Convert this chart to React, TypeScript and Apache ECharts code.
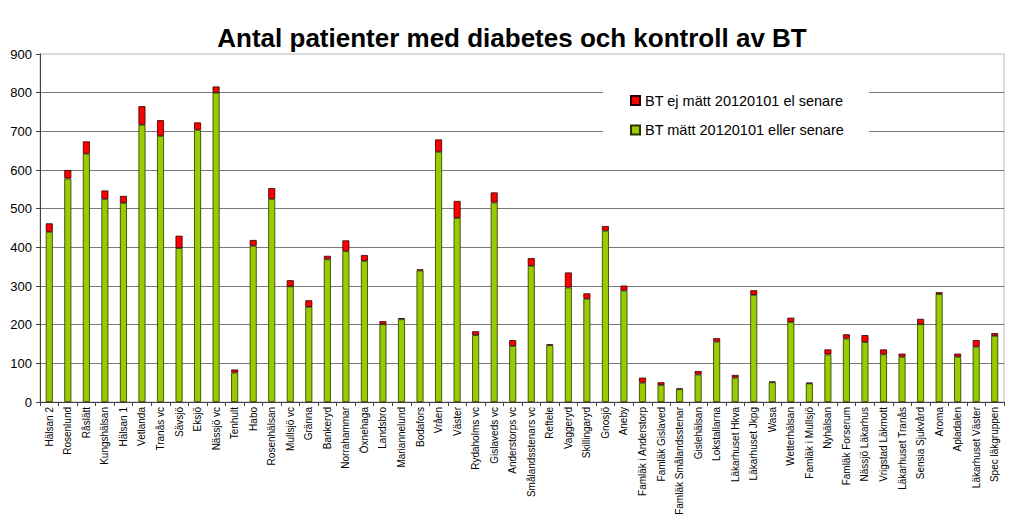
import React, { useEffect, useRef } from "react";
import * as echarts from "echarts";

const categories: string[] = [
  "Hälsan 2", "Rosenlund", "Råslätt", "Kungshälsan", "Hälsan 1", "Vetlanda", "Tranås vc", "Sävsjö",
  "Eksjö", "Nässjö vc", "Tenhult", "Habo", "Rosenhälsan", "Mullsjö vc", "Gränna", "Bankeryd",
  "Norrahammar", "Öxnehaga", "Landsbro", "Mariannelund", "Bodafors", "Vråen", "Väster", "Rydaholms vc",
  "Gislaveds vc", "Anderstorps vc", "Smålandsstenars vc", "Reftele", "Vaggeryd", "Skillingaryd", "Gnosjö", "Aneby",
  "Famläk i Anderstorp", "Famläk Gislaved", "Famläk Smålandsstenar", "Gislehälsan", "Lokstallarna", "Läkarhuset Hkva",
  "Läkarhuset Jkpg", "Wasa", "Wetterhälsan", "Famläk i Mullsjö", "Nyhälsan", "Famläk Forserum", "Nässjö Läkarhus",
  "Vrigstad Läkmott", "Läkarhuset Tranås", "Sensia Sjukvård", "Aroma", "Apladalen", "Läkarhuset Väster", "Spec läkgruppen",
];

const measured: number[] = [
  440, 578, 642, 525, 515, 717, 688, 398, 704, 800, 76, 404, 525, 299, 246, 369,
  390, 365, 201, 214, 340, 647, 476, 173, 516, 145, 352, 147, 296, 267, 443, 288,
  50, 44, 33, 71, 156, 63, 277, 51, 207, 48, 123, 164, 155, 123, 117, 201, 279, 117, 143, 171,
];

const notMeasured: number[] = [
  22, 22, 32, 22, 18, 48, 41, 32, 19, 16, 8, 15, 28, 16, 17, 9,
  28, 15, 8, 3, 3, 32, 44, 10, 26, 15, 20, 2, 39, 14, 12, 13,
  13, 7, 2, 9, 9, 7, 12, 2, 11, 2, 13, 11, 18, 13, 8, 14, 5, 8, 17, 7,
];

const seriesNames = ["BT ej mätt 20120101 el senare", "BT mätt 20120101 eller senare"];
const yTicks = { min: 0, max: 900, interval: 100 };

const FONT = "'Liberation Sans', Arial, sans-serif";

export default function App() {
  const ref = useRef<HTMLDivElement>(null);
  useEffect(() => {
    if (!ref.current) return;
    const chart = echarts.init(ref.current, null, { renderer: "svg" });
    chart.setOption({
      animation: false,
      backgroundColor: "#ffffff",
      title: {
        text: "Antal patienter med diabetes och kontroll av BT",
        left: "center",
        top: 20,
        textStyle: { fontFamily: FONT, fontSize: 26, fontWeight: "bold", color: "#000" },
      },
      legend: {
        data: [seriesNames[0], seriesNames[1]],
        orient: "vertical",
        left: 603,
        top: 72,
        padding: [21, 25, 18, 27],
        backgroundColor: "#ffffff",
        itemWidth: 9,
        itemHeight: 9,
        itemGap: 14.5,
        icon: "rect",
        textStyle: { fontFamily: FONT, fontSize: 14.5, color: "#000" },
      },
      grid: {
        left: 40,
        right: 20,
        top: 54,
        bottom: 122,
        show: true,
        borderColor: "#b8b8b8",
        borderWidth: 1,
        containLabel: false,
      },
      xAxis: {
        type: "category",
        data: categories,
        axisLine: { lineStyle: { color: "#404040", width: 1 } },
        axisTick: { show: true, length: 4, alignWithLabel: false, lineStyle: { color: "#404040" } },
        axisLabel: {
          rotate: 90,
          interval: 0,
          fontSize: 10,
          fontFamily: FONT,
          color: "#000",
          margin: 5,
        },
      },
      yAxis: {
        type: "value",
        min: yTicks.min,
        max: yTicks.max,
        interval: yTicks.interval,
        axisLine: { show: true, lineStyle: { color: "#404040", width: 1 } },
        axisTick: { show: true, length: 4, lineStyle: { color: "#404040" } },
        axisLabel: { fontSize: 13, fontFamily: FONT, color: "#000", margin: 8 },
        splitLine: { show: true, showMaxLine: false, lineStyle: { color: "#7a7a7a", width: 1 } },
      },
      series: [
        {
          name: seriesNames[1],
          type: "bar",
          stack: "total",
          data: measured,
          barWidth: 7,
          itemStyle: { color: "#99cc00", borderColor: "#2a3300", borderWidth: 0.8 },
        },
        {
          name: seriesNames[0],
          type: "bar",
          stack: "total",
          data: notMeasured,
          barWidth: 7,
          itemStyle: { color: "#ff0000", borderColor: "#2a0000", borderWidth: 0.8 },
        },
      ],
    });
    return () => chart.dispose();
  }, []);
  return (
    <div
      ref={ref}
      style={{ position: "fixed", left: 0, top: 0, width: 1024, height: 524, background: "#fff" }}
    />
  );
}
